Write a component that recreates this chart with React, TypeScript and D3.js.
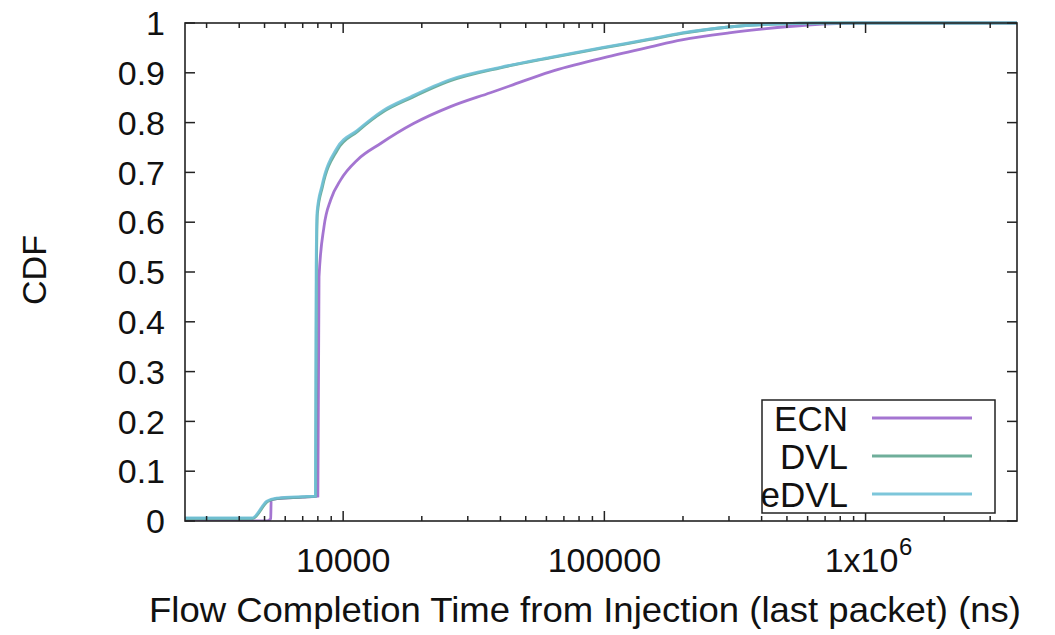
import React from "react";
import * as d3 from "d3";

// flow completion time (ns) -> CDF
const ecnX = [2480, 5100, 5280, 5300, 5600, 7000, 8000, 8083, 8446, 8960, 9780, 11330, 13910, 18590, 25760, 36610, 43650, 62000, 99000, 150000, 198000, 300000, 408000, 600000, 975000, 3800000];
const ecnY = [0.0, 0.0, 0.005, 0.042, 0.045, 0.048, 0.05, 0.49, 0.591, 0.645, 0.685, 0.725, 0.758, 0.798, 0.832, 0.86, 0.874, 0.902, 0.93, 0.952, 0.966, 0.98, 0.988, 0.996, 1.0, 1.0];

const dvlX = [2480, 4500, 5130, 5570, 7000, 7850, 7900, 7970, 8330, 9500, 11330, 14280, 18110, 25760, 40000, 62000, 99000, 150000, 198000, 300000, 450000, 700000, 3800000];
const dvlY = [0.005, 0.005, 0.039, 0.045, 0.048, 0.05, 0.5, 0.618, 0.671, 0.745, 0.782, 0.822, 0.849, 0.884, 0.91, 0.93, 0.95, 0.967, 0.979, 0.992, 0.998, 1.0, 1.0];

const edvlX = [2480, 4480, 5100, 5550, 7000, 7830, 7880, 7950, 8300, 9450, 11300, 14200, 18000, 25600, 40000, 62000, 99000, 150000, 198000, 300000, 450000, 700000, 3800000];
const edvlY = [0.006, 0.006, 0.04, 0.046, 0.049, 0.05, 0.51, 0.622, 0.674, 0.748, 0.784, 0.824, 0.851, 0.886, 0.911, 0.931, 0.951, 0.968, 0.98, 0.992, 0.998, 1.0, 1.0];

const seriesNames = ["ECN", "DVL", "eDVL"];
const seriesColors = ["#9a66cc", "#5fa58f", "#6fc0d6"];

const yTicks = [0, 0.1, 0.2, 0.3, 0.4, 0.5, 0.6, 0.7, 0.8, 0.9, 1];
const yTickLabels = ["0", "0.1", "0.2", "0.3", "0.4", "0.5", "0.6", "0.7", "0.8", "0.9", "1"];
const xMajor = [10000, 100000, 1000000];
const xMinor = [3000, 4000, 5000, 6000, 7000, 8000, 9000, 20000, 30000, 40000, 50000, 60000, 70000, 80000, 90000, 200000, 300000, 400000, 500000, 600000, 700000, 800000, 900000, 2000000, 3000000];

const W = 1055;
const H = 635;
const left = 185;
const right = 1017;
const top = 23;
const bottom = 521;
const font = "'Liberation Sans', Arial, sans-serif";

export default function App() {
  const x = d3.scaleLog().domain([2480, 3800000]).range([left, right]);
  const y = d3.scaleLinear().domain([0, 1]).range([bottom, top]);

  const series = [
    ecnX.map((v, i) => [v, ecnY[i]] as [number, number]),
    dvlX.map((v, i) => [v, dvlY[i]] as [number, number]),
    edvlX.map((v, i) => [v, edvlY[i]] as [number, number]),
  ];

  const line = d3
    .line<[number, number]>()
    .x((d) => x(d[0]))
    .y((d) => y(d[1]))
    .curve(d3.curveMonotoneX);

  const legendRows = [418, 456, 494];

  return (
    <svg width={W} height={H} style={{ position: "absolute", left: 0, top: 0, background: "#fff" }}>
      <defs>
        <clipPath id="plot">
          <rect x={left} y={top - 2} width={right - left} height={bottom - top + 2} />
        </clipPath>
      </defs>

      {/* curves */}
      <g clipPath="url(#plot)">
        {series.map((s, i) => (
          <path key={i} d={line(s) || ""} fill="none" stroke={seriesColors[i]} strokeWidth={2.8} strokeOpacity={0.9} />
        ))}
      </g>

      {/* y ticks, mirrored */}
      {yTicks.map((t, i) => (
        <g key={"y" + i}>
          <line x1={left} x2={left + 10} y1={y(t)} y2={y(t)} stroke="#222" strokeWidth={1.5} />
          <line x1={right - 10} x2={right} y1={y(t)} y2={y(t)} stroke="#222" strokeWidth={1.5} />
          <text x={left - 20} y={y(t)} dy="0.36em" textAnchor="end" fontFamily={font} fontSize={34} fill="#111">
            {yTickLabels[i]}
          </text>
        </g>
      ))}

      {/* x ticks, mirrored */}
      {xMinor.map((t, i) => (
        <g key={"m" + i}>
          <line x1={x(t)} x2={x(t)} y1={bottom} y2={bottom - 5} stroke="#222" strokeWidth={1.5} />
          <line x1={x(t)} x2={x(t)} y1={top} y2={top + 5} stroke="#222" strokeWidth={1.5} />
        </g>
      ))}
      {xMajor.map((t, i) => (
        <g key={"M" + i}>
          <line x1={x(t)} x2={x(t)} y1={bottom} y2={bottom - 10} stroke="#222" strokeWidth={1.5} />
          <line x1={x(t)} x2={x(t)} y1={top} y2={top + 10} stroke="#222" strokeWidth={1.5} />
        </g>
      ))}
      {xMajor.slice(0, 2).map((t, i) => (
        <text key={"xl" + i} x={x(t)} y={572} textAnchor="middle" fontFamily={font} fontSize={34} fill="#111">
          {d3.format("d")(t)}
        </text>
      ))}
      <text x={x(xMajor[2]) - 4} y={572} textAnchor="middle" fontFamily={font} fontSize={34} fill="#111">
        1x10
      </text>
      <text x={x(xMajor[2]) + 40} y={555} textAnchor="middle" fontFamily={font} fontSize={24} fill="#111">
        6
      </text>

      {/* frame */}
      <rect x={left} y={top} width={right - left} height={bottom - top} fill="none" stroke="#222" strokeWidth={1.6} />

      {/* axis titles */}
      <text
        transform={`translate(46,270) rotate(-90)`}
        textAnchor="middle"
        fontFamily={font}
        fontSize={34}
        fill="#111"
      >
        CDF
      </text>
      <text
        x={585}
        y={622}
        textAnchor="middle"
        fontFamily={font}
        fontSize={35}
        fill="#111"
        textLength={872}
        lengthAdjust="spacingAndGlyphs"
      >
        Flow Completion Time from Injection (last packet) (ns)
      </text>

      {/* legend */}
      <rect x={762} y={400} width={233} height={113} fill="#fff" stroke="#222" strokeWidth={1.5} />
      {seriesNames.map((n, i) => (
        <g key={n}>
          <text x={848} y={legendRows[i]} dy="0.36em" textAnchor="end" fontFamily={font} fontSize={35} fill="#111">
            {n}
          </text>
          <line x1={872} x2={972} y1={legendRows[i]} y2={legendRows[i]} stroke={seriesColors[i]} strokeWidth={2.8} strokeOpacity={0.9} />
        </g>
      ))}
    </svg>
  );
}
